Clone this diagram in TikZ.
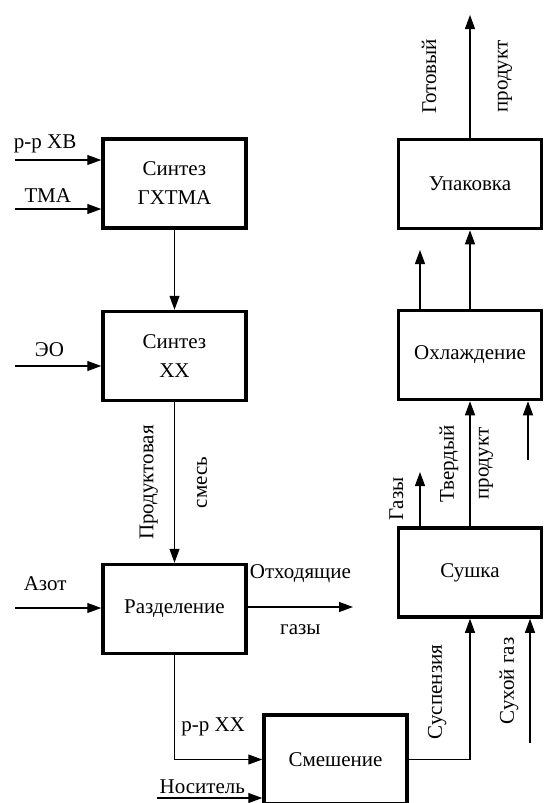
\documentclass[tikz,border=0pt]{standalone}
\usepackage{fontspec}
\setmainfont{Liberation Serif}
\usetikzlibrary{arrows.meta,positioning}

\begin{document}
\begin{tikzpicture}[
			x=1pt, y=-1pt,
			font=\fontsize{21}{29}\selectfont,
			>={Triangle[length=14pt,width=10pt]},
			stage/.style={draw, line width=3.5pt, minimum width=143pt, minimum height=89pt, align=center, inner sep=2pt},
			flow/.style={->, line width=1.2pt},
			lvlab/.style={rotate=90, inner sep=2pt, left=#1, anchor=south},
			rvlab/.style={rotate=90, inner sep=2pt, right=#1, anchor=north}
			]
			\useasboundingbox (0,0) rectangle (545,803);
			
			\node[stage] (gxtma) at (174.5,183.5) {Синтез\\ГХТМА};
			\node[stage] (xx) at (174.5,356) {Синтез\\ХХ};
			\node[stage] (razd) at (174.5,609) {Разделение};
			\node[stage] (smesh) at (335.5,759.5) {Смешение};
			\node[stage] (sush) at (470,572.5) {Сушка};
			\node[stage] (ohl) at (470,355) {Охлаждение};
			\node[stage] (upak) at (470,184) {Упаковка};
			
			% free ends
			\coordinate (hv) at (15,160);
			\coordinate (tma) at (15,209);
			\coordinate (eo) at (15,366);
			\coordinate (azot) at (15,608);
			\coordinate (offgas) at (353,607);
			\coordinate (nos) at (157,798);
			\coordinate (dry) at (530,743);
			\coordinate (gasout) at (420,472);
			\coordinate (cool) at (528,460);
			\coordinate (air) at (420,250);
			\coordinate (prod) at (470,15);
			
			\draw[flow] (hv) -- node[pos=0.35, above=3pt]{р-р ХВ} (hv -| gxtma.west);
			\draw[flow] (tma) -- node[pos=0.38, above=3pt]{ТМА} (tma -| gxtma.west);
			\draw[flow] (gxtma) -- (xx);
			\draw[flow] (eo) -- node[pos=0.4, above=5pt]{ЭО} (eo -| xx.west);
			\draw[flow] (xx) -- node[lvlab=14pt]{Продуктовая} node[rvlab=20pt]{смесь} (razd);
			\draw[flow] (azot) -- node[pos=0.35, above=13pt]{Азот} (azot -| razd.west);
			\draw[flow] (offgas -| razd.east) -- node[above=20pt]{Отходящие} node[below=14pt]{газы} (offgas);
			\draw[flow] (razd.south) |- node[pos=0.72, above=20pt]{р-р ХХ} (smesh.west);
			\draw[flow] (nos) -- node[pos=0.43, above]{Носитель} (nos -| smesh.west);
			\draw[flow] (smesh.east) -| node[pos=0.74, lvlab=21pt]{Суспензия} (sush.south);
			\draw[flow] (dry) -- node[lvlab=9pt]{Сухой газ} (dry |- sush.south);
			\draw[flow] (gasout |- sush.north) -- node[lvlab=14pt]{Газы} (gasout);
			\draw[flow] (sush) -- node[lvlab=9pt]{Твердый} node[rvlab=6pt]{продукт} (ohl);
			\draw[flow] (cool) -- (cool |- ohl.south);
			\draw[flow] (air |- ohl.north) -- (air);
			\draw[flow] (ohl) -- (upak);
			\draw[flow] (upak) -- node[lvlab=31pt]{Готовый} node[rvlab=25pt]{продукт} (prod);
		\end{tikzpicture}
\end{document}
